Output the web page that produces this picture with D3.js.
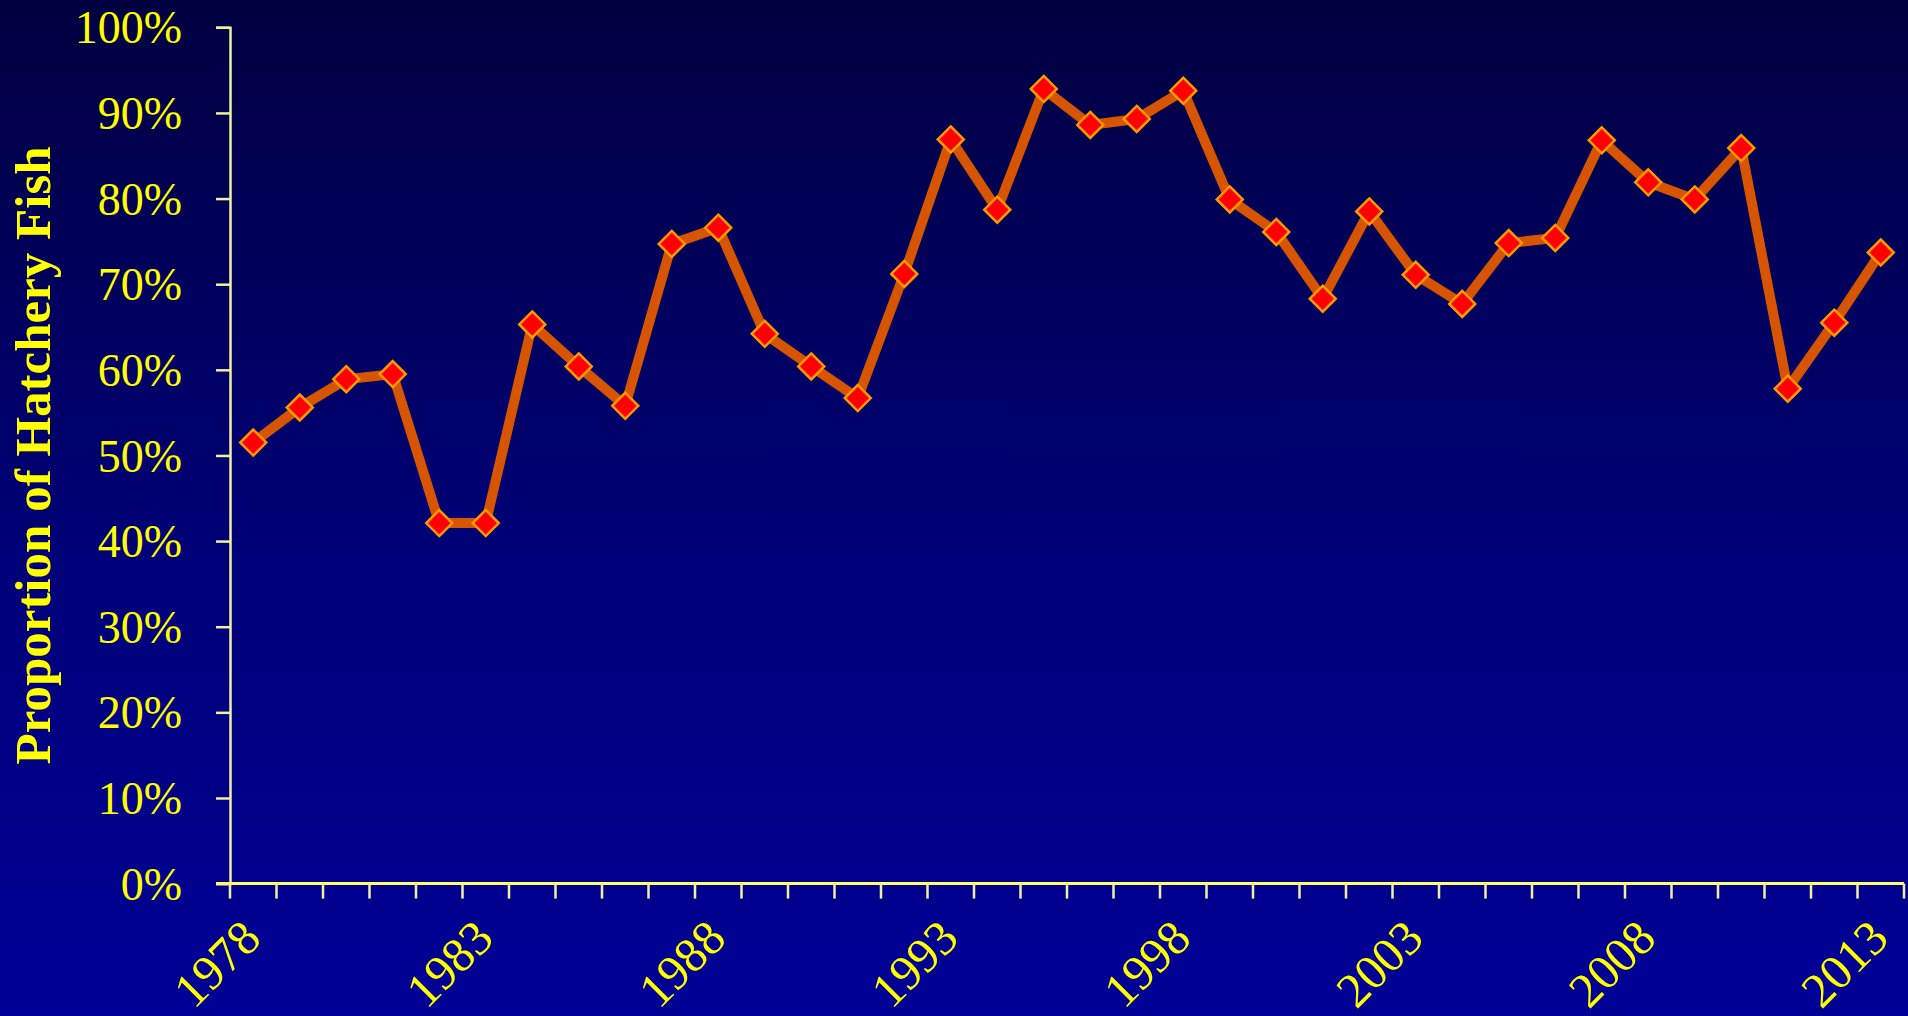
<!DOCTYPE html>
<html>
<head>
<meta charset="utf-8">
<script src="https://cdn.jsdelivr.net/npm/d3@7"></script>
<style>
html,body{margin:0;padding:0;overflow:hidden;background:#000080;}
svg{display:block;}
</style>
</head>
<body>
<svg id="chart" width="1908" height="1016"></svg>
<script>
const years = d3.range(1978, 2014);
const proportions = [51.5,55.6,58.9,59.5,42.1,42.1,65.3,60.4,55.8,74.7,76.6,64.2,60.4,56.7,71.2,86.9,78.7,92.8,88.6,89.3,92.6,79.9,76.1,68.3,78.5,71.1,67.7,74.8,75.4,86.8,81.9,79.9,85.9,57.8,65.5,73.7];
const yTicks = [0,10,20,30,40,50,60,70,80,90,100];
const labelYears = [1978,1983,1988,1993,1998,2003,2008,2013];
const yTitle = "Proportion of Hatchery Fish";

const W = 1908, H = 1016;
const margin = {left:230, right:4, top:27.3, bottom:H-883.6};
const svg = d3.select("#chart");

const defs = svg.append("defs");
const grad = defs.append("linearGradient").attr("id","bg").attr("x1",0).attr("y1",0).attr("x2",0).attr("y2",1);
grad.append("stop").attr("offset","0%").attr("stop-color","#000040");
grad.append("stop").attr("offset","55%").attr("stop-color","#000078");
grad.append("stop").attr("offset","100%").attr("stop-color","#000096");
svg.append("rect").attr("width",W).attr("height",H).attr("fill","url(#bg)");

const x = d3.scaleBand().domain(years).range([margin.left, W-margin.right]).paddingInner(0).paddingOuter(0);
const y = d3.scaleLinear().domain([0,100]).range([H-margin.bottom, margin.top]);

const font = "'Liberation Serif','Times New Roman',serif";

// Y axis
const yAxis = svg.append("g").attr("transform",`translate(${margin.left},0)`)
  .call(d3.axisLeft(y).tickValues(yTicks).tickSize(14).tickPadding(34).tickFormat(d=>d+"%"));
yAxis.select(".domain").attr("stroke","#f0f0a0").attr("stroke-width",2.5);
yAxis.selectAll(".tick line").attr("stroke","#f0f0a0").attr("stroke-width",2.5);
yAxis.selectAll(".tick text").attr("fill","#ffff00").attr("font-family",font).attr("font-size",46).attr("dy","0.34em");

// X axis
const xAxis = svg.append("g").attr("transform",`translate(0,${y(0)})`)
  .call(d3.axisBottom(x).tickSize(0).tickFormat(""));
xAxis.select(".domain").remove();
svg.append("line").attr("x1",margin.left-14).attr("x2",W-margin.right).attr("y1",y(0)).attr("y2",y(0))
  .attr("stroke","#ffff66").attr("stroke-width",3);
const boundaries = years.map(d=>x(d)).concat([x(years[years.length-1])+x.bandwidth()]);
svg.append("g").selectAll("line").data(boundaries).join("line")
  .attr("x1",d=>d).attr("x2",d=>d).attr("y1",y(0)).attr("y2",y(0)+15)
  .attr("stroke","#f0f0a0").attr("stroke-width",2.5);
svg.append("g").selectAll("text").data(labelYears).join("text")
  .attr("transform",d=>`translate(${x(d)+x.bandwidth()/2+10},${y(0)+57}) rotate(-45)`)
  .attr("text-anchor","end").attr("fill","#ffff00").attr("font-family",font).attr("font-size",49)
  .text(d=>d);

// Y title
svg.append("text")
  .attr("transform",`translate(${50},${(y(0)+y(100))/2}) rotate(-90)`)
  .attr("text-anchor","middle").attr("fill","#ffff00").attr("font-family",font)
  .attr("font-weight","bold").attr("font-size",51).text(yTitle);

// Line
const data = years.map((yr,i)=>({yr, v:proportions[i]}));
const line = d3.line().x(d=>x(d.yr)+x.bandwidth()/2).y(d=>y(d.v));
svg.append("path").datum(data).attr("d",line).attr("fill","none")
  .attr("stroke","#d75400").attr("stroke-width",10).attr("stroke-linejoin","miter");

// Markers
const s = 13;
svg.append("g").selectAll("path").data(data).join("path")
  .attr("transform",d=>`translate(${x(d.yr)+x.bandwidth()/2},${y(d.v)})`)
  .attr("d",`M0,${-s}L${s},0L0,${s}L${-s},0Z`)
  .attr("fill","#ff0000").attr("stroke","#ff9900").attr("stroke-width",2.5);
</script>
</body>
</html>
